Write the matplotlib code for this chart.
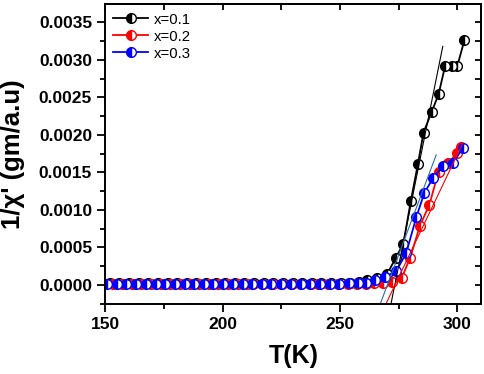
import numpy as np
import matplotlib
matplotlib.use("Agg")
import matplotlib.pyplot as plt
from matplotlib.ticker import MultipleLocator

plt.rcParams['font.family'] = ['Liberation Sans', 'DejaVu Sans']

# ---------------- data ----------------
labels = ["x=0.1", "x=0.2", "x=0.3"]
colors = ["black", "red", "blue"]

black_T = [152.0, 156.0, 160.1, 164.2, 168.3, 172.4, 176.5, 180.6, 184.7, 188.8,
           192.9, 197.0, 201.1, 205.2, 209.3, 213.4, 217.5, 221.6, 225.7, 229.8,
           233.9, 238.0, 242.1, 246.2, 250.3, 254.4, 258.0, 261.5, 265.7, 270.2,
           273.8, 277.0, 280.2, 283.2, 285.6, 289.1, 292.0, 294.8, 297.7, 300.0,
           303.0]
black_y = [0.00002, 0.00002, 0.00002, 0.00002, 0.00002, 0.00002, 0.00002, 0.00002, 0.00002, 0.00002,
           0.00002, 0.00002, 0.00002, 0.00002, 0.00002, 0.00002, 0.00002, 0.00002, 0.00002, 0.00002,
           0.00002, 0.00002, 0.00002, 0.00002, 0.00002, 0.00003, 0.00004, 0.00006, 0.00009, 0.00015,
           0.00036, 0.00055, 0.00112, 0.00161, 0.00203, 0.00231, 0.00254, 0.00292, 0.00292, 0.00292,
           0.00326]

red_T = [153.3, 157.2, 161.3, 165.4, 169.5, 173.6, 177.7, 181.8, 185.9, 190.0,
         194.1, 198.2, 202.3, 206.4, 210.5, 213.1, 217.2, 221.3, 225.4, 229.5,
         233.6, 237.7, 240.8, 245.0, 249.2, 253.3, 257.2, 261.0, 264.6, 268.5,
         272.1, 276.3, 279.9, 284.1, 288.1, 292.0, 296.0, 300.0, 301.5]
red_y = [0.00001, 0.00001, 0.00001, 0.00001, 0.00001, 0.00001, 0.00001, 0.00001, 0.00001, 0.00001,
         0.00001, 0.00001, 0.00001, 0.00001, 0.00001, 0.00001, 0.00001, 0.00001, 0.00001, 0.00001,
         0.00001, 0.00001, 0.00001, 0.00001, 0.00001, 0.00001, 0.00001, 0.00001, 0.00002, 0.00002,
         0.00004, 0.00009, 0.00036, 0.00079, 0.00107, 0.00151, 0.00162, 0.00176, 0.00184]

blue_T = [150.8, 154.9, 159.0, 163.2, 167.3, 171.4, 175.5, 179.6, 183.8, 187.9,
          192.0, 196.1, 200.2, 204.4, 208.5, 212.6, 216.7, 220.8, 225.0, 229.1,
          233.2, 237.3, 241.4, 245.6, 249.7, 253.8, 257.5, 260.9, 265.0, 269.3,
          273.9, 278.2, 282.5, 286.0, 289.8, 293.8, 298.1, 302.3]
blue_y = [0.00001, 0.00001, 0.00001, 0.00001, 0.00001, 0.00001, 0.00001, 0.00001, 0.00001, 0.00001,
          0.00001, 0.00001, 0.00001, 0.00001, 0.00001, 0.00001, 0.00001, 0.00001, 0.00001, 0.00001,
          0.00001, 0.00001, 0.00001, 0.00001, 0.00001, 0.00002, 0.00002, 0.00003, 0.00007, 0.00011,
          0.00018, 0.00042, 0.00090, 0.00123, 0.00143, 0.00158, 0.00163, 0.00182]

# linear fits: slope, x-intercept T0, drawn range
fit_slope = [0.0001557, 0.0000655, 0.0000834]
fit_T0 = [273.37, 273.47, 270.22]
fit_start = [271.7, 269.5, 267.1]
fit_end = [293.8, 302.3, 291.0]
fit_colors = ["black", "red", "#2f6da3"]

series_T = [black_T, red_T, blue_T]
series_y = [black_y, red_y, blue_y]

# ---------------- figure ----------------
fig = plt.figure(figsize=(4.84, 3.74), dpi=100)
ax = fig.add_axes([0.2176, 0.1864, 0.9948 - 0.2176, 0.988 - 0.1864])

for T, y, c, lab in zip(series_T, series_y, colors, labels):
    ax.plot(T, y, '-', color=c, lw=1.3, marker='o', markersize=7.0,
            fillstyle='left', markerfacecolor=c, markerfacecoloralt='white',
            markeredgecolor=c, markeredgewidth=1.0, label=lab)

for s, t0, a, b, c in zip(fit_slope, fit_T0, fit_start, fit_end, fit_colors):
    Tf = np.array([a, b])
    ax.plot(Tf, s * (Tf - t0), '-', color=c, lw=0.8)

ax.set_xlim(150, 310.3)
ax.set_ylim(-0.00026, 0.00374)

ax.xaxis.set_major_locator(MultipleLocator(50))
ax.xaxis.set_minor_locator(MultipleLocator(25))
ax.yaxis.set_major_locator(MultipleLocator(0.0005))
ax.yaxis.set_minor_locator(MultipleLocator(0.00025))
ax.yaxis.set_major_formatter(matplotlib.ticker.FormatStrFormatter('%.4f'))

for sp in ax.spines.values():
    sp.set_linewidth(1.4)

ax.tick_params(which='both', direction='out', width=1.3,
               labelsize=12.5, top=False, right=False)
ax.tick_params(which='major', length=6)
ax.tick_params(which='minor', length=3.5)

# mirrored inward ticks on top/right
axr = ax.secondary_yaxis('right')
axr.yaxis.set_major_locator(MultipleLocator(0.0005))
axr.yaxis.set_minor_locator(MultipleLocator(0.00025))
axr.tick_params(which='both', direction='in', length=4.5, width=1.3, labelright=False)
axt = ax.secondary_xaxis('top')
axt.xaxis.set_major_locator(MultipleLocator(50))
axt.xaxis.set_minor_locator(MultipleLocator(25))
axt.tick_params(which='both', direction='in', length=4.5, width=1.3, labeltop=False)
for a2 in (axr, axt):
    for sp in a2.spines.values():
        sp.set_linewidth(1.4)

for lbl in ax.get_xticklabels() + ax.get_yticklabels():
    lbl.set_fontweight('bold')

ax.set_xlabel("T(K)", fontsize=18, fontweight='bold', labelpad=8)
ax.set_ylabel("1/χ' (gm/a.u)", fontsize=18.5, fontweight='bold')
ax.yaxis.set_label_coords(-0.213, 0.5)

leg = ax.legend(loc='upper left', frameon=False, fontsize=10.7,
                handlelength=2.3, handletextpad=0.4, labelspacing=0.2,
                borderaxespad=0.15, bbox_to_anchor=(0.0, 1.0))

fig.savefig("out.png", dpi=100)
